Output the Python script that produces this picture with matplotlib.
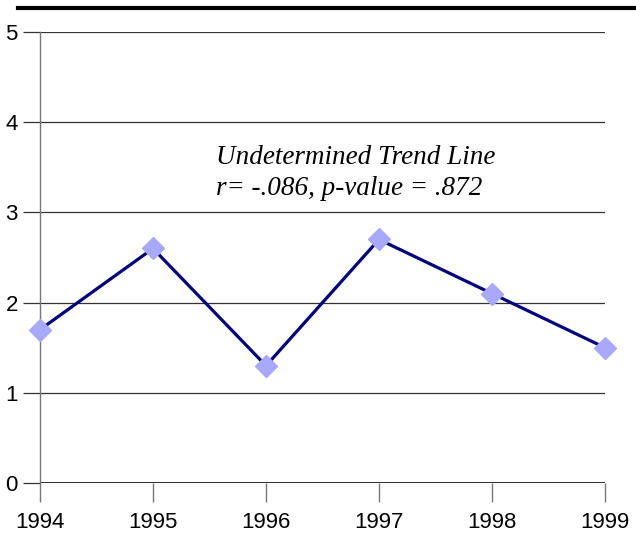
import matplotlib
matplotlib.use("Agg")
import matplotlib.pyplot as plt
from matplotlib.lines import Line2D

years = [1994, 1995, 1996, 1997, 1998, 1999]
values = [1.7, 2.6, 1.3, 2.7, 2.1, 1.5]
yticks = [0, 1, 2, 3, 4, 5]

fig = plt.figure(figsize=(6.36, 5.35), dpi=100)
ax = fig.add_axes([40/636, 1-483/535, 565/636, 451/535])

ax.set_xlim(1994, 1999)
ax.set_ylim(0, 5)
ax.set_yticks(yticks)
ax.set_xticks(years)
for y in yticks:
    ax.axhline(y, color='#333333', lw=0.9, zorder=1)
ax.axhline(0, color='black', lw=1.1, zorder=1)

ax.plot(years, values, color='#000080', lw=2.3, zorder=3, clip_on=False)
ax.plot(years, values, ls='none', marker='D', ms=11.5, mfc='#A8A8FF', mec='#A8A8FF', zorder=4, clip_on=False)

for s in ['top', 'right', 'bottom']:
    ax.spines[s].set_visible(False)
ax.spines['left'].set_color('#777777')
ax.spines['left'].set_linewidth(1.0)

ax.tick_params(axis='y', length=12, width=0.9, color='#333333', labelsize=16, pad=4)
ax.tick_params(axis='x', length=14, width=1.0, color='#777777', labelsize=16, pad=7)
for lab in ax.get_xticklabels() + ax.get_yticklabels():
    lab.set_fontfamily('Liberation Sans')

ax.text(1995.56, 3.44, "Undetermined Trend Line\nr= -.086, p-value = .872",
        fontsize=19.5, fontstyle='italic', family='Liberation Serif', linespacing=1.32,
        va='center', ha='left', zorder=5)

fig.add_artist(Line2D([18/636, 1.0], [1-8/535, 1-8/535], color='black', lw=3, transform=fig.transFigure))

fig.savefig("out.png", dpi=100)
